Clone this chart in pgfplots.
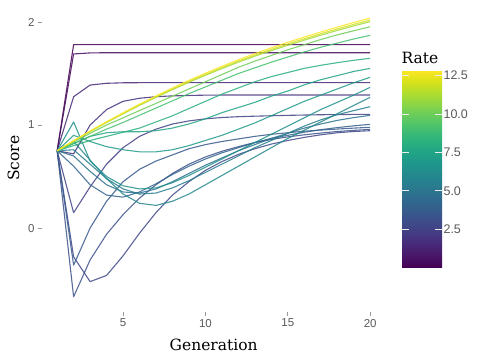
\documentclass[border=0pt]{standalone}
\usepackage{fontspec}
\setmainfont{DejaVu Serif}
\setsansfont{Liberation Sans}
\usepackage{pgfplots}
\usepackage{pgfplotstable}
\pgfplotsset{compat=1.18}
\definecolor{v00}{HTML}{440154}
\definecolor{v10}{HTML}{482475}
\definecolor{v20}{HTML}{414487}
\definecolor{v30}{HTML}{355F8D}
\definecolor{v40}{HTML}{2A788E}
\definecolor{v50}{HTML}{21918C}
\definecolor{v60}{HTML}{22A884}
\definecolor{v70}{HTML}{44BF70}
\definecolor{v80}{HTML}{7AD151}
\definecolor{v90}{HTML}{BDDF26}
\definecolor{v100}{HTML}{FDE725}
\pgfplotstableread{
g  L1   L2    L3    L4    L5    BC    BB     BA    B4    B0    T6    T5    T4    T3    T2    T1    Y5    Y4    Y3    Y2    Y1
1  0.75 0.75  0.75  0.75  0.75  0.75  0.75   0.75  0.75  0.75  0.75  0.75  0.75  0.75  0.75  0.75  0.75  0.75  0.75  0.75  0.75
2  1.78 1.69  1.275 0.72  0.149 -0.28 -0.667 -0.36 0.60  0.70  0.76  0.84  1.03  0.90  0.82  0.80  0.82  0.835 0.845 0.846 0.847
3  1.78 1.70  1.388 1.00  0.40  -0.52 -0.31  0.00  0.42  0.55  0.62  0.66  0.65  0.84  0.89  0.85  0.89  0.92  0.936 0.939 0.942
4  1.78 1.702 1.405 1.15  0.62  -0.46 -0.06  0.26  0.32  0.42  0.48  0.48  0.50  0.79  0.925 0.89  0.96  1.00  1.024 1.028 1.032
5  1.78 1.702 1.410 1.23  0.78  -0.27 0.13   0.45  0.30  0.35  0.38  0.33  0.41  0.76  0.935 0.93  1.025 1.07  1.109 1.113 1.119
6  1.78 1.702 1.411 1.26  0.89  -0.05 0.29   0.57  0.35  0.34  0.33  0.24  0.38  0.74  0.935 0.97  1.095 1.14  1.191 1.196 1.203
7  1.78 1.702 1.411 1.275 0.96  0.15  0.42   0.65  0.43  0.38  0.34  0.22  0.39  0.74  0.945 1.03  1.165 1.21  1.269 1.275 1.283
8  1.78 1.702 1.411 1.283 1.01  0.32  0.53   0.71  0.52  0.45  0.39  0.26  0.44  0.76  0.97  1.09  1.235 1.28  1.343 1.351 1.360
9  1.78 1.702 1.411 1.287 1.04  0.45  0.62   0.77  0.60  0.53  0.46  0.33  0.51  0.80  1.01  1.16  1.305 1.35  1.415 1.423 1.434
10 1.78 1.702 1.411 1.29  1.06  0.56  0.69   0.81  0.67  0.61  0.54  0.42  0.59  0.85  1.06  1.23  1.37  1.42  1.483 1.492 1.503
11 1.78 1.702 1.411 1.291 1.073 0.645 0.745  0.84  0.73  0.68  0.62  0.51  0.67  0.90  1.12  1.30  1.435 1.49  1.548 1.558 1.570
12 1.78 1.702 1.411 1.291 1.081 0.715 0.79   0.865 0.78  0.75  0.70  0.60  0.75  0.96  1.17  1.36  1.50  1.56  1.610 1.620 1.634
13 1.78 1.702 1.411 1.291 1.086 0.77  0.83   0.89  0.83  0.81  0.78  0.69  0.83  1.02  1.22  1.42  1.555 1.62  1.668 1.679 1.693
14 1.78 1.702 1.411 1.291 1.090 0.815 0.86   0.91  0.87  0.87  0.85  0.78  0.91  1.09  1.28  1.47  1.61  1.675 1.722 1.734 1.749
15 1.78 1.702 1.411 1.291 1.094 0.85  0.885  0.925 0.90  0.92  0.92  0.87  0.99  1.16  1.33  1.51  1.66  1.73  1.774 1.787 1.803
16 1.78 1.702 1.411 1.291 1.097 0.88  0.905  0.94  0.93  0.97  0.99  0.95  1.07  1.23  1.39  1.55  1.71  1.78  1.824 1.837 1.854
17 1.78 1.702 1.411 1.291 1.100 0.905 0.922  0.951 0.955 1.01  1.05  1.03  1.15  1.29  1.44  1.58  1.755 1.83  1.872 1.886 1.903
18 1.78 1.702 1.411 1.291 1.101 0.925 0.937  0.961 0.975 1.045 1.10  1.11  1.22  1.35  1.48  1.605 1.795 1.875 1.918 1.932 1.950
19 1.78 1.702 1.411 1.291 1.103 0.937 0.948  0.970 0.992 1.072 1.14  1.19  1.29  1.41  1.52  1.628 1.835 1.915 1.962 1.977 1.995
20 1.78 1.702 1.411 1.291 1.104 0.945 0.958  0.978 1.007 1.094 1.178 1.269 1.366 1.463 1.55  1.648 1.871 1.954 2.004 2.019 2.038
}\data
\pgfplotsset{ln/.style={line width=1.1pt, opacity=0.85, line join=round}}
\begin{document}
\begin{tikzpicture}
\path[use as bounding box] (-41.5pt,-47pt) rectangle (436.5pt,312pt);
\begin{axis}[
  scale only axis, width=344.3pt, height=307.5pt,
  xmin=0.05, xmax=20.95, ymin=-0.815, ymax=2.17,
  xtick={5,10,15,20}, ytick={0,1,2},
  tick pos=left, tick align=outside, major tick length=3.5pt,
  tick style={draw=black!40, line width=0.6pt},
  axis line style={draw=none},
  tick label style={font=\sffamily\fontsize{11.5}{12}\selectfont, text=black!65},
  /pgf/number format/assume math mode=true,
  xlabel={Generation}, ylabel={Score},
  label style={font=\fontsize{15.5}{17}\selectfont},
  xlabel style={at={(axis description cs:0.5,-0.1073)}, anchor=center},
  ylabel style={at={(axis description cs:-0.0813,0.5)}, anchor=center},
  colorbar, colormap name=viridis, point meta min=0.03, point meta max=12.87,
  colorbar/width=40pt,
  colorbar style={
    scale only axis, width=40pt, height=197pt,
    at={(parent axis.north east)}, anchor=north west, xshift=7.7pt, yshift=-65.5pt,
    axis line style={draw=none}, axis on top,
    ytick={2.5,5,7.5,10,12.5},
    ytick pos=both, yticklabel pos=right,
    tick align=inside, major tick length=7pt,
    tick style={draw=white!85!gray, line width=0.8pt},
    /pgf/number format/assume math mode=true,
    yticklabel style={font=\sffamily\fontsize{12.5}{13}\selectfont, text=black!65, xshift=-2pt,
      /pgf/number format/fixed, /pgf/number format/fixed zerofill, /pgf/number format/precision=1},
  },
]
\addplot[ln, color=v00] table[x=g, y=L1] {\data};
\addplot[ln, color=v10!30!v00] table[x=g, y=L2] {\data};
\addplot[ln, color=v20!10!v10] table[x=g, y=L3] {\data};
\addplot[ln, color=v20!40!v10] table[x=g, y=L4] {\data};
\addplot[ln, color=v20!90!v10] table[x=g, y=L5] {\data};
\addplot[ln, color=v30!20!v20] table[x=g, y=BC] {\data};
\addplot[ln, color=v30!50!v20] table[x=g, y=BB] {\data};
\addplot[ln, color=v30!80!v20] table[x=g, y=BA] {\data};
\addplot[ln, color=v40!20!v30] table[x=g, y=B4] {\data};
\addplot[ln, color=v40!70!v30] table[x=g, y=B0] {\data};
\addplot[ln, color=v50!20!v40] table[x=g, y=T6] {\data};
\addplot[ln, color=v50!60!v40] table[x=g, y=T5] {\data};
\addplot[ln, color=v50] table[x=g, y=T4] {\data};
\addplot[ln, color=v60!40!v50] table[x=g, y=T3] {\data};
\addplot[ln, color=v60!80!v50] table[x=g, y=T2] {\data};
\addplot[ln, color=v70!30!v60] table[x=g, y=T1] {\data};
\addplot[ln, color=v70] table[x=g, y=Y5] {\data};
\addplot[ln, color=v80!80!v70] table[x=g, y=Y4] {\data};
\addplot[ln, color=v90!60!v80] table[x=g, y=Y3] {\data};
\addplot[ln, color=v100!30!v90] table[x=g, y=Y2] {\data};
\addplot[ln, color=v100] table[x=g, y=Y1] {\data};
\end{axis}
\node[anchor=base west, inner sep=0pt, font=\fontsize{15.5}{17}\selectfont] at (360pt,248.7pt) {Rate};
\end{tikzpicture}
\end{document}
